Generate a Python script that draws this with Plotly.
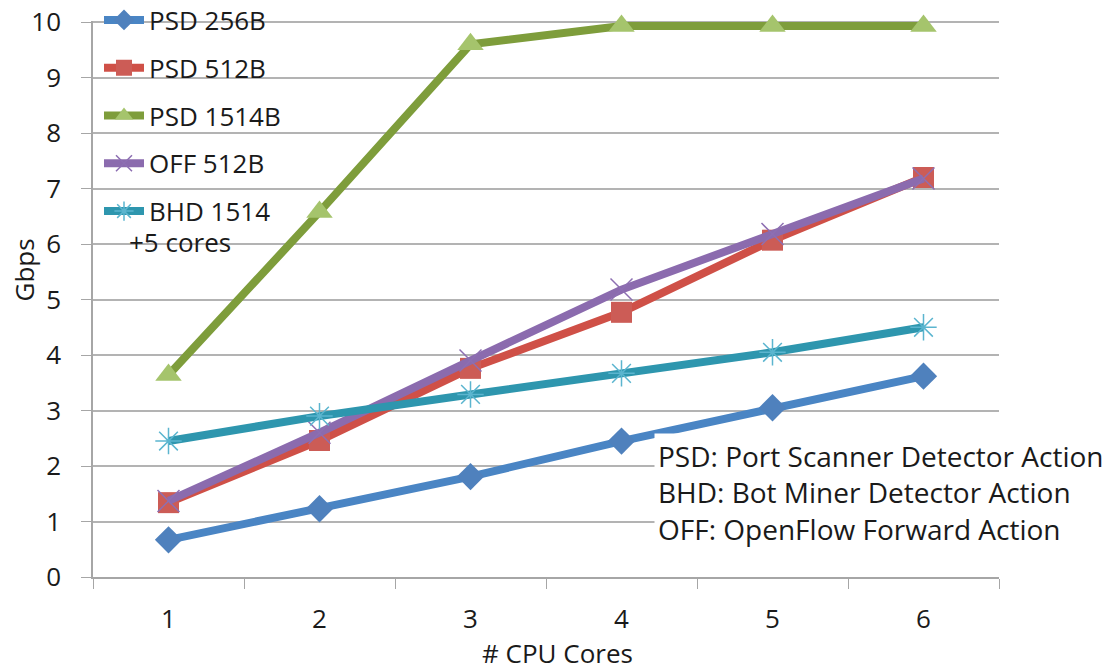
import plotly.graph_objects as go

cores = ["1", "2", "3", "4", "5", "6"]
psd_256 = [0.67, 1.23, 1.81, 2.45, 3.05, 3.62]
psd_512 = [1.34, 2.46, 3.76, 4.77, 6.07, 7.2]
psd_1514 = [3.64, 6.58, 9.6, 9.93, 9.93, 9.93]
off_512 = [1.37, 2.6, 3.9, 5.18, 6.18, 7.18]
bhd_1514 = [2.45, 2.9, 3.29, 3.67, 4.05, 4.5]

y_ticks = list(range(0, 11))
note_lines = ["PSD: Port Scanner Detector Action",
              "BHD: Bot Miner Detector Action",
              "OFF: OpenFlow Forward Action"]

FONT = "Open Sans"
TXT = "#1a1a1a"

series = [
    ("PSD 256B", psd_256, "#4A85C4", dict(symbol="diamond", size=21, color="#4F81BD")),
    ("PSD 512B", psd_512, "#CF5047", dict(symbol="square", size=21, color="#CC5C56")),
    ("PSD 1514B", psd_1514, "#7E9D3B", dict(symbol="triangle-up", size=23, color="#A5C46C")),
    ("OFF 512B", off_512, "#8B6BAE", dict(symbol="x-thin-open", size=22, color="#8D6FB2", line=dict(width=1.5, color="#8D6FB2"))),
    ("BHD 1514", bhd_1514, "#2E96AE", dict(symbol="asterisk-open", size=22, color="#5BB5CF", line=dict(width=1.5, color="#5BB5CF"))),
]

fig = go.Figure()
for i, (name, vals, lc, mk) in enumerate(series):
    fig.add_trace(go.Scatter(
        x=cores, y=vals, name=name, mode="lines+markers",
        line=dict(color=lc, width=8), marker=mk, cliponaxis=False,
        legendgroup=f"g{i}",
    ))

# plot area in page pixels: x 93..999, y 22..577
def px(xp):
    return (xp - 93) / 906

def py(yp):
    return (577 - yp) / 555

fig.add_annotation(
    xref="paper", yref="paper", x=px(127), y=py(243),
    xanchor="left", yanchor="middle", text="+5 cores", showarrow=False,
    font=dict(family=FONT, size=26, color=TXT),
)

fig.add_annotation(
    xref="paper", yref="paper", x=px(654), y=py(493),
    xanchor="left", yanchor="middle", align="left",
    text="<br>".join(note_lines), showarrow=False,
    bgcolor="white", borderpad=3,
    font=dict(family=FONT, size=28, color=TXT),
)

fig.add_annotation(
    xref="paper", yref="paper", x=px(24), y=py(271),
    xanchor="center", yanchor="middle", text="Gbps", textangle=-90, showarrow=False,
    font=dict(family=FONT, size=26, color=TXT),
)

fig.add_annotation(
    xref="paper", yref="paper", x=px(557), y=py(653),
    xanchor="center", yanchor="middle", text="# CPU Cores", showarrow=False,
    font=dict(family=FONT, size=26, color=TXT),
)

fig.update_layout(
    width=1108, height=670,
    margin=dict(l=93, r=109, t=21, b=93, autoexpand=False),
    paper_bgcolor="white", plot_bgcolor="white",
    font=dict(family=FONT, size=26, color=TXT),
    showlegend=True,
    legend=dict(
        x=(99 - 93) / 906, y=1 + 24.5 / 556, xanchor="left", yanchor="top",
        bgcolor="rgba(0,0,0,0)", font=dict(family=FONT, size=26, color=TXT),
        tracegroupgap=11, itemwidth=40, valign="top",
    ),
    xaxis=dict(
        type="category", range=[-0.5, 5.5], showgrid=False, showline=True,
        linecolor="#A6A6A6", linewidth=1.5,
        ticks="outside", tickson="boundaries", ticklen=10, tickcolor="#A6A6A6",
        tickfont=dict(size=26), ticklabelstandoff=18, automargin=False,
    ),
    yaxis=dict(
        range=[0, 10.02], tickvals=y_ticks, showgrid=True, gridcolor="#B3B3B3", gridwidth=1.5,
        showline=True, linecolor="#A6A6A6", linewidth=1.5,
        ticks="outside", ticklen=10, tickcolor="#A6A6A6",
        tickfont=dict(size=26), ticklabelstandoff=15, zeroline=False, automargin=False,
    ),
)

fig.write_html("out.html", config={"displayModeBar": False},
               post_script="document.body.style.margin='0';")
